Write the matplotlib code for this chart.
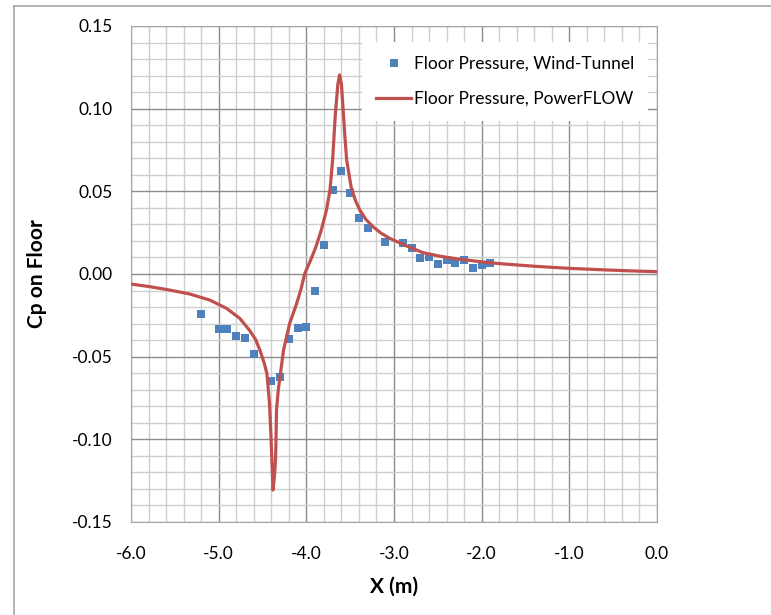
import matplotlib
matplotlib.use('Agg')
import matplotlib.pyplot as plt
from matplotlib.lines import Line2D
from matplotlib.ticker import MultipleLocator

plt.rcParams['font.family'] = ['Lato', 'DejaVu Sans']

# wind-tunnel floor taps
wt_x = [-5.2, -5.0, -4.9, -4.8, -4.7, -4.6, -4.4, -4.3, -4.2, -4.1, -4.0, -3.9,
        -3.8, -3.7, -3.6, -3.5, -3.4, -3.3, -3.1, -2.9, -2.8, -2.7, -2.6, -2.5,
        -2.4, -2.3, -2.2, -2.1, -2.0, -1.9]
wt_cp = [-0.0240, -0.0330, -0.0333, -0.0374, -0.0389, -0.0486, -0.0650, -0.0620,
         -0.0394, -0.0329, -0.0319, -0.0100, 0.0177, 0.0508, 0.0621, 0.0488,
         0.0340, 0.0278, 0.0191, 0.0185, 0.0155, 0.0098, 0.0104, 0.0060,
         0.0084, 0.0064, 0.0084, 0.0038, 0.0052, 0.0068]

# PowerFLOW floor line
pf_x = [-6.00, -5.78, -5.56, -5.33, -5.10, -4.91, -4.76, -4.65, -4.58, -4.53,
        -4.48, -4.45, -4.42, -4.40, -4.38, -4.36, -4.35, -4.34, -4.32, -4.30,
        -4.26, -4.19, -4.11, -4.06, -4.02, -3.95, -3.89, -3.83, -3.77, -3.73,
        -3.70, -3.67, -3.64, -3.62, -3.60, -3.58, -3.56, -3.54, -3.49, -3.44,
        -3.39, -3.32, -3.24, -3.15, -3.05, -2.85, -2.67, -2.48, -2.29, -2.10,
        -1.91, -1.68, -1.40, -1.00, -0.60, -0.30, 0.00]
pf_cp = [-0.0061, -0.0077, -0.0097, -0.0121, -0.0158, -0.0208, -0.0268, -0.0339,
         -0.0395, -0.0460, -0.0540, -0.0601, -0.0783, -0.1025, -0.1307, -0.1200,
         -0.1105, -0.0823, -0.0700, -0.0622, -0.0460, -0.0299, -0.0178, -0.0090,
         0.0000, 0.0085, 0.0165, 0.0265, 0.0387, 0.0510, 0.0690, 0.0960, 0.1150,
         0.1204, 0.1150, 0.0992, 0.0830, 0.0690, 0.0528, 0.0445, 0.0387, 0.0330,
         0.0286, 0.0248, 0.0216, 0.0168, 0.0129, 0.0108, 0.0092, 0.0080, 0.0068,
         0.0058, 0.0047, 0.0034, 0.0025, 0.0019, 0.0014]

fig = plt.figure(figsize=(7.71, 6.15), dpi=100)
ax = fig.add_axes([131 / 771, 1 - 522 / 615, (657 - 131) / 771, (522 - 26) / 615])

ax.plot(wt_x, wt_cp, 's', color='#4f81bd', markersize=6, markeredgewidth=0,
        label='Floor Pressure, Wind-Tunnel', zorder=3)
ax.plot(pf_x, pf_cp, '-', color='#c0504d', linewidth=2.3,
        label='Floor Pressure, PowerFLOW', zorder=4)

ax.set_xlim(-6.0, 0.0)
ax.set_ylim(-0.15, 0.15)
ax.xaxis.set_major_locator(MultipleLocator(1.0))
ax.xaxis.set_minor_locator(MultipleLocator(0.2))
ax.yaxis.set_major_locator(MultipleLocator(0.05))
ax.yaxis.set_minor_locator(MultipleLocator(0.01))
ax.xaxis.set_major_formatter(lambda v, p: f'{v:.1f}')
ax.yaxis.set_major_formatter(lambda v, p: f'{v:.2f}')

ax.grid(True, which='minor', color='#cfcfcf', linewidth=1.0)
ax.grid(True, which='major', color='#8c8c8c', linewidth=1.0)
ax.set_axisbelow(True)
ax.tick_params(which='both', length=0, labelsize=12.5, colors='black')
ax.tick_params(axis='x', pad=17)
ax.tick_params(axis='y', pad=13)
for s in ax.spines.values():
    s.set_color('#a6a6a6')

ax.set_xlabel('X (m)', fontsize=15, fontweight='bold', labelpad=11)
ax.set_ylabel('Cp on Floor', fontsize=15, fontweight='bold', labelpad=18)

leg = ax.legend(loc='upper right', bbox_to_anchor=(0.999, 0.985), fontsize=12.5,
                frameon=True, fancybox=False, edgecolor='none',
                facecolor='white', framealpha=1.0, handlelength=2.0,
                labelspacing=1.1, borderpad=0.8, handletextpad=0.15,
                markerscale=0.85)
leg.set_zorder(5)

# outer chart frame (left and top only)
fig.add_artist(Line2D([14 / 771, 14 / 771], [0, 1 - 6 / 615], color='#a6a6a6', lw=1.2))
fig.add_artist(Line2D([14 / 771, 1], [1 - 6 / 615, 1 - 6 / 615], color='#a6a6a6', lw=1.2))

fig.savefig('out.png', dpi=100)
